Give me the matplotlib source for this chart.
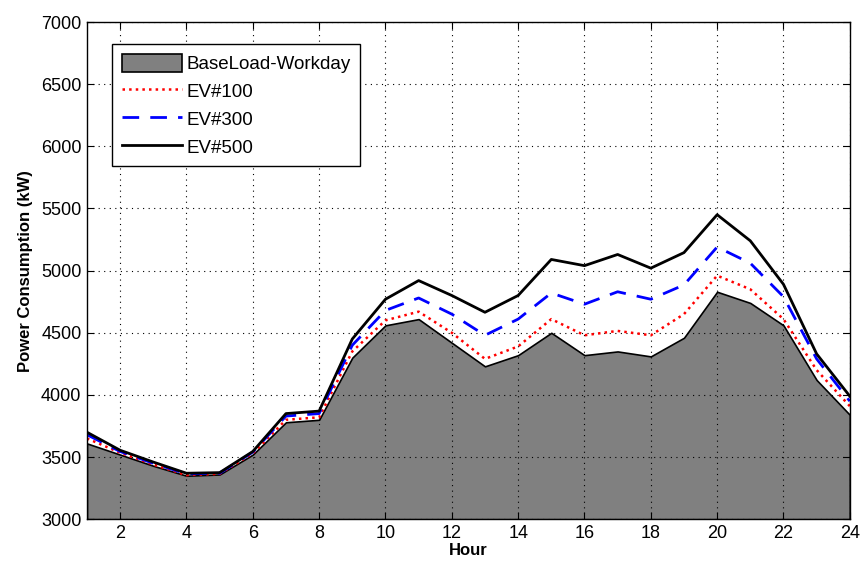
import matplotlib
matplotlib.use("Agg")
import matplotlib.pyplot as plt
from matplotlib.patches import Patch
from matplotlib.lines import Line2D

hours = list(range(1, 25))
base = [3610, 3520, 3430, 3350, 3360, 3520, 3780, 3800, 4300, 4560, 4610, 4420,
        4230, 4320, 4500, 4320, 4350, 4310, 4460, 4830, 4740, 4560, 4120, 3840]
ev100 = [3650, 3535, 3440, 3355, 3365, 3530, 3800, 3820, 4350, 4600, 4670, 4500,
         4290, 4390, 4610, 4480, 4515, 4480, 4650, 4960, 4850, 4610, 4200, 3910]
ev300 = [3680, 3545, 3450, 3365, 3370, 3540, 3830, 3850, 4400, 4680, 4780, 4650,
         4480, 4610, 4820, 4730, 4830, 4770, 4885, 5190, 5060, 4790, 4290, 3950]
ev500 = [3700, 3555, 3460, 3370, 3375, 3545, 3850, 3870, 4450, 4770, 4920, 4800,
         4665, 4800, 5090, 5040, 5130, 5020, 5145, 5450, 5240, 4890, 4330, 3990]
labels = ["BaseLoad-Workday", "EV#100", "EV#300", "EV#500"]
xticks = list(range(2, 25, 2))
yticks = list(range(3000, 7001, 500))

plt.rcParams['font.family'] = ['Liberation Sans', 'DejaVu Sans']

fig = plt.figure(figsize=(8.61, 5.65), dpi=100)
ax = fig.add_axes([0.101, 0.081, 0.886, 0.880])

ax.fill_between(hours, 3000, base, facecolor='#808080', edgecolor='black', linewidth=1.2, zorder=2)
ax.plot(hours, ev100, color='red', linestyle=':', linewidth=1.8, zorder=3)
ax.plot(hours, ev300, color='blue', linestyle=(0, (6, 4)), linewidth=2.0, zorder=4)
ax.plot(hours, ev500, color='black', linestyle='-', linewidth=2.0, zorder=5)

ax.set_xlim(1, 24)
ax.set_ylim(3000, 7000)
ax.set_xticks(xticks)
ax.set_yticks(yticks)
ax.tick_params(direction='in', top=True, right=True, labelsize=13, length=5, pad=4)
ax.grid(True, color='black', linestyle=(0, (1, 4)), linewidth=0.8)
ax.set_axisbelow(False)
for s in ax.spines.values():
    s.set_linewidth(1.0)
    s.set_zorder(6)

ax.set_xlabel("Hour", fontsize=12, fontweight='bold', labelpad=1)
ax.set_ylabel("Power Consumption (kW)", fontsize=12, fontweight='bold', labelpad=6)

handles = [Patch(facecolor='#808080', edgecolor='black', linewidth=1.2),
           Line2D([], [], color='red', linestyle=':', linewidth=1.8),
           Line2D([], [], color='blue', linestyle=(0, (6, 4)), linewidth=2.0),
           Line2D([], [], color='black', linewidth=2.0)]
leg = ax.legend(handles, labels, loc='upper left', bbox_to_anchor=(0.033, 0.955),
                fontsize=13.5, frameon=True, fancybox=False, framealpha=1,
                edgecolor='black', handlelength=3.2, handleheight=1.1,
                handletextpad=0.25, borderpad=0.5, labelspacing=0.45,
                borderaxespad=0)
leg.get_frame().set_linewidth(1.0)
leg.set_zorder(10)

fig.savefig("out.png", dpi=100)
